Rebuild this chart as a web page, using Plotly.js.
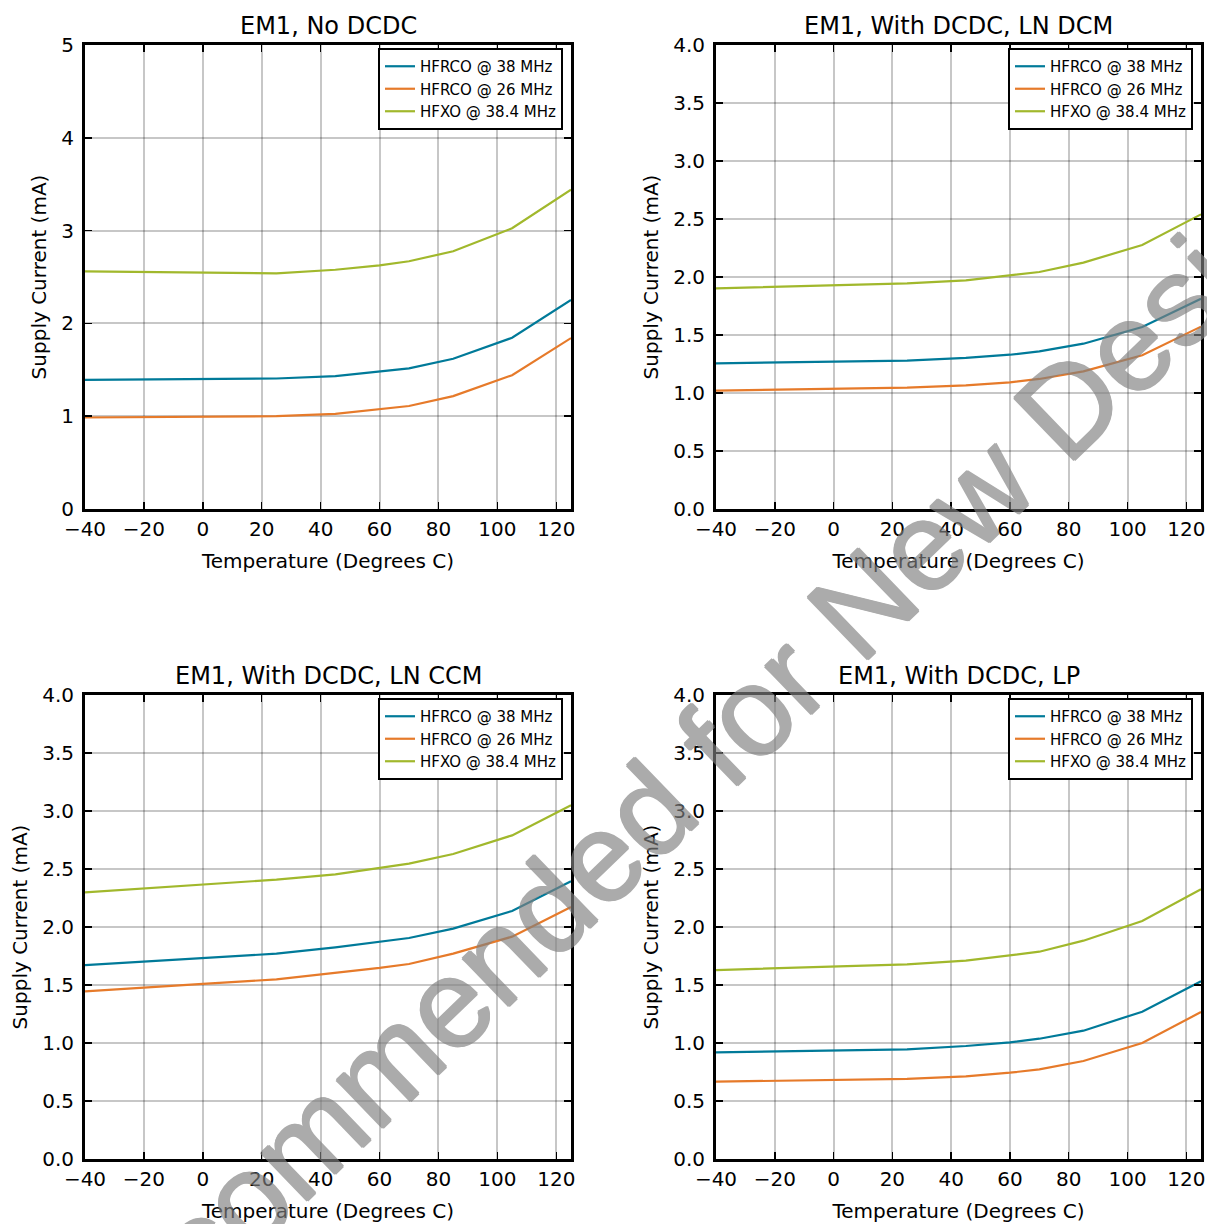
<!DOCTYPE html>
<html>
<head>
<meta charset="utf-8">
<script src="https://cdn.plot.ly/plotly-3.0.1.min.js"></script>
<style>html,body{margin:0;padding:0;background:#fff;}</style>
</head>
<body>
<div id="chart" style="width:1207px;height:1224px;"></div>
<script>
// ---- data ----
const temps = [-40, -20, 0, 25, 45, 60, 70, 85, 105, 125];
const seriesNames = ['HFRCO @ 38 MHz', 'HFRCO @ 26 MHz', 'HFXO @ 38.4 MHz'];
const panelTitles = ['EM1, No DCDC', 'EM1, With DCDC, LN DCM', 'EM1, With DCDC, LN CCM', 'EM1, With DCDC, LP'];
const xTicks = [-40, -20, 0, 20, 40, 60, 80, 100, 120];

const noDcdcHfrco38 = [1.392, 1.396, 1.400, 1.406, 1.432, 1.478, 1.515, 1.619, 1.845, 2.252];
const noDcdcHfrco26 = [0.986, 0.990, 0.995, 1.000, 1.025, 1.072, 1.110, 1.216, 1.442, 1.842];
const noDcdcHfxo    = [2.561, 2.555, 2.549, 2.540, 2.578, 2.626, 2.670, 2.777, 3.025, 3.440];

const lnDcmHfrco38 = [1.256, 1.263, 1.270, 1.279, 1.302, 1.330, 1.359, 1.425, 1.569, 1.813];
const lnDcmHfrco26 = [1.020, 1.028, 1.036, 1.046, 1.066, 1.092, 1.121, 1.187, 1.325, 1.572];
const lnDcmHfxo    = [1.902, 1.915, 1.928, 1.945, 1.971, 2.014, 2.043, 2.124, 2.276, 2.540];

const lnCcmHfrco38 = [1.672, 1.701, 1.733, 1.770, 1.825, 1.871, 1.905, 1.986, 2.138, 2.394];
const lnCcmHfrco26 = [1.445, 1.474, 1.509, 1.549, 1.603, 1.647, 1.681, 1.770, 1.917, 2.172];
const lnCcmHfxo    = [2.299, 2.333, 2.365, 2.408, 2.454, 2.506, 2.546, 2.629, 2.790, 3.049];

const lpHfrco38 = [0.920, 0.928, 0.937, 0.945, 0.974, 1.006, 1.037, 1.106, 1.270, 1.532];
const lpHfrco26 = [0.667, 0.674, 0.681, 0.690, 0.713, 0.744, 0.773, 0.845, 1.000, 1.267];
const lpHfxo    = [1.629, 1.644, 1.658, 1.678, 1.710, 1.756, 1.787, 1.882, 2.052, 2.325];

const panels = [
  [noDcdcHfrco38, noDcdcHfrco26, noDcdcHfxo],
  [lnDcmHfrco38, lnDcmHfrco26, lnDcmHfxo],
  [lnCcmHfrco38, lnCcmHfrco26, lnCcmHfxo],
  [lpHfrco38, lpHfrco26, lpHfxo]
];
const colors = ['#007a99', '#e67a2a', '#a1b82c'];
const watermarkText = 'Not Recommended for New Designs';

// ---- layout geometry ----
const W = 1207, H = 1224;
const px = v => v / W, py = v => 1 - v / H;
const xDomains = [[px(85), px(571)], [px(716), px(1201)], [px(85), px(571)], [px(716), px(1201)]];
const yDomains = [[py(509), py(45)], [py(509), py(45)], [py(1159), py(695)], [py(1159), py(695)]];
const FONT = 'DejaVu Sans';

const traces = [];
const layout = {
  width: W, height: H,
  margin: {l: 0, r: 0, t: 0, b: 0},
  paper_bgcolor: '#fff', plot_bgcolor: '#fff',
  font: {family: FONT, size: 20, color: '#000'},
  annotations: []
};

panels.forEach((series, p) => {
  const n = p + 1;
  const xa = n === 1 ? 'x' : 'x' + n;
  const ya = n === 1 ? 'y' : 'y' + n;
  const legName = n === 1 ? 'legend' : 'legend' + n;
  series.forEach((vals, s) => {
    traces.push({
      x: temps, y: vals, type: 'scatter', mode: 'lines',
      name: seriesNames[s], xaxis: xa, yaxis: ya, legend: legName,
      line: {color: colors[s], width: 2.2}
    });
  });
  const common = {
    showline: true, linecolor: '#000', linewidth: 3, mirror: 'ticks',
    ticks: 'inside', ticklen: 7, tickwidth: 1.5, tickcolor: '#000',
    showgrid: true, gridcolor: 'rgba(0,0,0,0.22)', gridwidth: 2,
    zeroline: false, tickfont: {family: FONT, size: 20, color: '#000'}
  };
  layout['xaxis' + (n === 1 ? '' : n)] = Object.assign({}, common, {
    domain: xDomains[p], anchor: ya, range: [-40, 125],
    tickmode: 'array', tickvals: xTicks,
    title: {text: 'Temperature (Degrees C)', font: {family: FONT, size: 20}, standoff: 14}
  });
  layout['yaxis' + (n === 1 ? '' : n)] = Object.assign({}, common, {
    domain: yDomains[p], anchor: xa,
    range: n === 1 ? [0, 5] : [0, 4],
    dtick: n === 1 ? 1 : 0.5, tick0: 0,
    tickformat: n === 1 ? 'd' : '.1f',
    ticklabelstandoff: 4,
    title: {text: 'Supply Current (mA)', font: {family: FONT, size: 20}, standoff: 10}
  });
  layout[legName] = {
    x: (xDomains[p][1] * W - 8) / W, y: yDomains[p][1] - 3 / H,
    xref: 'paper', yref: 'paper', xanchor: 'right', yanchor: 'top',
    bgcolor: '#fff', bordercolor: '#000', borderwidth: 2,
    font: {family: FONT, size: 15, color: '#000'}
  };
  layout.annotations.push({
    text: panelTitles[p], showarrow: false,
    x: (xDomains[p][0] + xDomains[p][1]) / 2, y: yDomains[p][1] + 3 / H,
    xref: 'paper', yref: 'paper', xanchor: 'center', yanchor: 'bottom',
    font: {family: FONT, size: 24, color: '#000'}
  });
});

// watermark
const wmGray = 'rgb(128,128,128)';
layout.annotations.push({
  text: watermarkText, showarrow: false,
  x: 628 / W, y: 1 - 830 / H, xref: 'paper', yref: 'paper',
  xanchor: 'center', yanchor: 'middle', textangle: -44, opacity: 0.66,
  font: {
    family: 'Liberation Sans', size: 126, color: wmGray,
    shadow: `1.2px 0 0 ${wmGray}, -1.2px 0 0 ${wmGray}, 0 1.2px 0 ${wmGray}, 0 -1.2px 0 ${wmGray}`
  }
});

Plotly.newPlot('chart', traces, layout, {staticPlot: true, displayModeBar: false});
</script>
</body>
</html>
